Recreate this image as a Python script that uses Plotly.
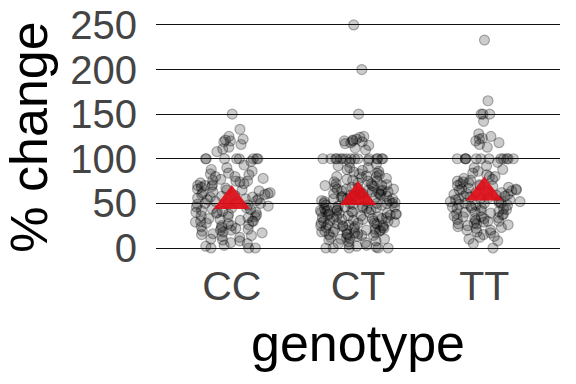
import plotly.graph_objects as go

categories = ["CC", "CT", "TT"]

cc_values = [150, 133, 125, 122, 121, 120, 119, 116, 113, 111, 108,
             100, 100, 100, 100, 100, 100, 100, 100,
             97, 93, 90, 88, 86, 84, 83, 82, 80, 80, 78, 77, 76, 75, 75, 74, 73, 72, 71,
             70, 70, 69, 68, 67, 66, 65, 65, 64, 63, 62, 62, 61, 60, 60, 59, 58, 57, 57,
             56, 55, 55, 54, 53, 52, 51, 50, 50, 50, 49, 48, 47, 46, 45, 45, 44, 43, 42,
             41, 40, 40, 40, 39, 38, 37, 36, 35, 35, 34, 33, 32, 31, 30, 30, 30, 29, 28,
             27, 26, 25, 25, 24, 23, 22, 21, 20, 20, 19, 18, 17, 16, 15, 14, 13, 12, 10,
             9, 8, 6, 5, 3, 2, 0, 0, 0]

ct_values = [250, 200, 150, 125, 124, 122, 121, 120, 120, 119, 118, 117, 115, 112, 110,
             100, 100, 100, 100, 100, 100, 100, 100, 100, 100, 100, 100, 100, 100, 100,
             98, 96, 94, 92, 90, 90, 88, 87, 86, 85, 84, 83, 82, 81, 80, 80, 79, 78, 77,
             76, 75, 75, 74, 73, 72, 71, 70, 70, 70, 69, 68, 67, 66, 66, 65, 65, 64, 63,
             62, 62, 61, 60, 60, 60, 59, 58, 58, 57, 56, 56, 55, 55, 54, 53, 53, 52, 51,
             50, 50, 50, 50, 49, 48, 48, 47, 46, 46, 45, 45, 44, 43, 43, 42, 41, 41, 40,
             40, 40, 39, 38, 38, 37, 36, 36, 35, 35, 34, 33, 33, 32, 31, 31, 30, 30, 30,
             29, 28, 28, 27, 26, 26, 25, 25, 25, 24, 23, 23, 22, 21, 21, 20, 20, 20, 19,
             18, 18, 17, 16, 16, 15, 15, 14, 13, 12, 11, 10, 10, 9, 8, 7, 6, 5, 4, 3,
             2, 1, 0, 0, 0, 0, 0,
             72, 68, 63, 57, 52, 47, 42, 37, 33, 27, 22, 17, 12, 45, 38, 28, 24, 34,
             55, 61, 66, 44, 39, 32, 19, 14, 50, 58, 64, 42]

tt_values = [233, 165, 150, 150, 150, 142, 128, 125, 123, 122, 120, 118, 116, 113,
             100, 100, 100, 100, 100, 100, 100, 100, 100, 100, 100, 100,
             96, 92, 90, 88, 86, 84, 82, 80, 80, 78, 77, 76, 75, 74, 73, 72, 71, 70, 70,
             69, 68, 67, 66, 65, 65, 64, 63, 62, 61, 60, 60, 59, 58, 57, 56, 55, 55, 54,
             53, 52, 51, 50, 50, 50, 49, 48, 47, 46, 45, 45, 44, 43, 42, 41, 40, 40, 39,
             38, 37, 36, 35, 35, 34, 33, 32, 31, 30, 30, 29, 28, 27, 26, 25, 24, 23, 22,
             20, 20, 18, 17, 15, 13, 12, 10, 8, 5, 0,
             62, 58, 54, 48, 44, 38, 33, 27, 66, 52]

mean_values = [52.7, 57.2, 62.2]

y_ticks = [0, 50, 100, 150, 200, 250]

FONT = "Liberation Sans, Arial, sans-serif"

fig = go.Figure()
for cat, vals in zip(categories, [cc_values, ct_values, tt_values]):
    fig.add_trace(go.Box(
        x=[cat] * len(vals), y=vals,
        boxpoints="all", jitter=1, pointpos=0,
        fillcolor="rgba(0,0,0,0)",
        line=dict(width=0, color="rgba(0,0,0,0)"),
        whiskerwidth=0,
        marker=dict(color="rgba(0,0,0,0.2)", size=10,
                    line=dict(color="rgba(0,0,0,0.3)", width=1.2)),
        showlegend=False, hoverinfo="y",
    ))

fig.add_trace(go.Scatter(
    x=categories, y=mean_values, mode="markers",
    marker=dict(symbol="triangle-up", size=32, color="#e00d18", opacity=0.92,
                line=dict(width=0)),
    showlegend=False,
))

fig.update_layout(
    width=576, height=384,
    margin=dict(l=156, r=16, t=16, b=126, autoexpand=False),
    paper_bgcolor="white", plot_bgcolor="white",
    font=dict(family=FONT, color="black"),
    boxgap=0.12, boxmode="overlay",
    xaxis=dict(
        type="category", categoryorder="array", categoryarray=categories,
        range=[-0.6, 2.6], showgrid=False, zeroline=False, showline=False,
        automargin=False,
        ticks="", tickfont=dict(size=41, color="#444444"),
        title=dict(text="genotype", font=dict(size=52, color="black"), standoff=16),
    ),
    yaxis=dict(
        range=[-11.2, 260], tickvals=y_ticks, ticktext=[str(v) for v in y_ticks],
        showgrid=True, gridcolor="#111111", gridwidth=1.1,
        zeroline=False, showline=False, ticks="",
        automargin=False, ticklabeloverflow="allow",
        ticklabelstandoff=18,
        tickfont=dict(size=40, color="#444444"),
        title=dict(text="% change", font=dict(size=52, color="black"), standoff=11),
    ),
)

fig.write_html("out.html",
               config={"displayModeBar": False},
               post_script="document.body.style.margin='0';document.body.style.overflow='hidden';")
